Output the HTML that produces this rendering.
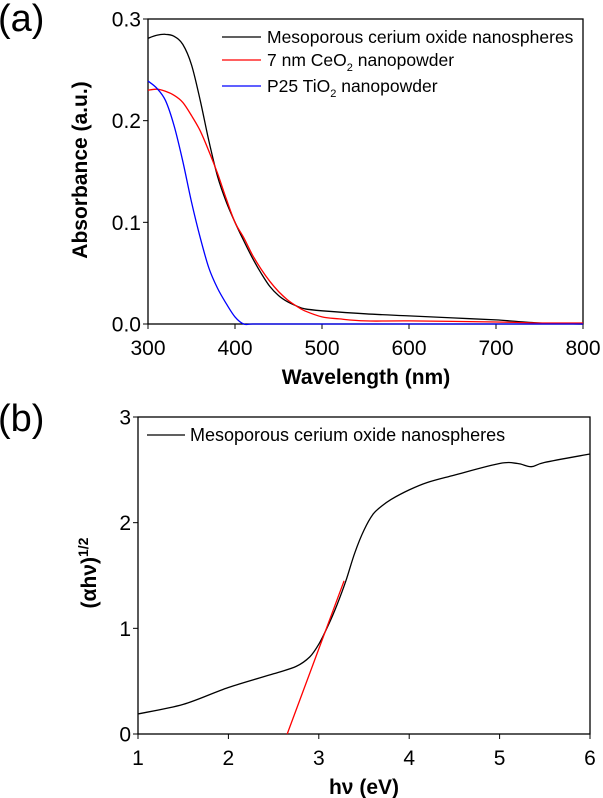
<!DOCTYPE html>
<html><head><meta charset="utf-8"><style>
body{margin:0;background:#fff}
svg{font-family:"Liberation Sans",sans-serif;display:block}
</style></head><body>
<svg id="c" width="603" height="798"></svg>
<script>
const aX=[300,310,320,330,340,350,360,370,380,390,400,410,420,430,440,450,460,470,480,500,550,600,650,700,750,800];
const aBlack=[0.281,0.284,0.285,0.283,0.275,0.255,0.22,0.18,0.145,0.12,0.1,0.082,0.065,0.05,0.037,0.028,0.022,0.018,0.015,0.013,0.01,0.008,0.006,0.004,0.001,0];
const aRedX=[300,310,320,330,340,350,360,370,380,390,400,410,420,430,440,450,460,470,480,500,520,550,600,700,750,800];
const aRed=[0.23,0.231,0.229,0.225,0.218,0.205,0.19,0.17,0.148,0.123,0.1,0.085,0.068,0.054,0.042,0.032,0.024,0.018,0.013,0.007,0.005,0.003,0.003,0.002,0.001,0.001];
const aBlueX=[300,310,320,330,340,350,360,370,380,390,400,410,420,450,500,600,700,800];
const aBlue=[0.239,0.232,0.22,0.195,0.16,0.12,0.085,0.055,0.035,0.02,0.007,0,0,0,0,0,0,0];
const aXTicks=[300,400,500,600,700,800];
const aYTicks=["0.0","0.1","0.2","0.3"];
const bX=[1,1.5,2,2.5,2.75,2.9,3,3.1,3.2,3.3,3.4,3.5,3.6,3.7,3.8,4,4.2,4.5,5,5.2,5.35,5.5,6];
const bY=[0.19,0.28,0.44,0.57,0.64,0.73,0.85,1.02,1.22,1.45,1.72,1.93,2.08,2.16,2.22,2.31,2.38,2.45,2.56,2.56,2.53,2.57,2.65];
const bFitX=[2.65,3.28];
const bFitY=[0,1.45];
const bXTicks=[1,2,3,4,5,6];
const bYTicks=[0,1,2,3];
const svg=document.getElementById('c');
const NS='http://www.w3.org/2000/svg';
function mk(t,a,txt){const e=document.createElementNS(NS,t);for(const k in a)e.setAttribute(k,a[k]);if(txt!==undefined)e.textContent=txt;svg.appendChild(e);return e;}
function smooth(p){
  let d='M'+p[0][0].toFixed(1)+','+p[0][1].toFixed(1);
  for(let i=0;i<p.length-1;i++){
    const p0=p[i-1]||p[i],p1=p[i],p2=p[i+1],p3=p[i+2]||p2;
    const c1=[p1[0]+(p2[0]-p0[0])/6,p1[1]+(p2[1]-p0[1])/6];
    const c2=[p2[0]-(p3[0]-p1[0])/6,p2[1]-(p3[1]-p1[1])/6];
    d+='C'+c1.map(v=>v.toFixed(1)).join(',')+' '+c2.map(v=>v.toFixed(1)).join(',')+' '+p2.map(v=>v.toFixed(1)).join(',');
  }
  return d;
}
function panel(P){
  const sx=v=>P.l+(v-P.x0)/(P.x1-P.x0)*(P.r-P.l);
  const sy=v=>P.b-(v-P.y0)/(P.y1-P.y0)*(P.b-P.t);
  let f=mk('rect',{x:P.l,y:P.t,width:P.r-P.l,height:P.b-P.t,fill:'none',stroke:'#000','stroke-width':1.3});
  
  P.xt.forEach(v=>{let x=sx(+v);mk('line',{x1:x,x2:x,y1:P.b,y2:P.b+5,stroke:'#000'});
    let t=mk('text',{x:x,y:P.b+31,'font-size':21,'text-anchor':'middle'},String(v));
    });
  P.yt.forEach(v=>{let y=sy(+v);mk('line',{x1:P.l-5,x2:P.l,y1:y,y2:y,stroke:'#000'});
    let t=mk('text',{x:P.l-7,y:y+7.5,'font-size':21,'text-anchor':'end'},String(v));
    });
  P.series.forEach(s=>{let pts=s.x.map((v,i)=>[sx(v),sy(s.y[i])]);
    let p=mk('path',{d:smooth(pts),fill:'none',stroke:s.c,'stroke-width':1.3});
    });
}
panel({id:'a',l:148,r:583,t:19,b:324,x0:300,x1:800,y0:0,y1:0.3,xt:aXTicks,yt:aYTicks,series:[
 {x:aX,y:aBlack,c:'#000',name:'series-mesoporous'},{x:aRedX,y:aRed,c:'#f00',name:'series-7nm-ceo2'},{x:aBlueX,y:aBlue,c:'#00f',name:'series-p25-tio2'}]});
panel({id:'b',l:138,r:590,t:417,b:734,x0:1,x1:6,y0:0,y1:3,xt:bXTicks,yt:bYTicks,series:[
 {x:bX,y:bY,c:'#000',name:'series-tauc'},{x:bFitX,y:bFitY,c:'#f00',name:'fit-line'}]});
</script>
<svg width="603" height="798" style="position:absolute;left:0;top:0" font-family="Liberation Sans, sans-serif">
<text x="-2" y="31" font-size="38">(a)</text>
<text x="-2" y="431" font-size="38">(b)</text>
<text x="366" y="384" font-size="21" font-weight="bold" text-anchor="middle">Wavelength (nm)</text>
<text transform="translate(87,170) rotate(-90)" font-size="21" font-weight="bold" text-anchor="middle">Absorbance (a.u.)</text>
<text x="364" y="794" font-size="21" font-weight="bold" text-anchor="middle">hν (eV)</text>
<text transform="translate(96,573) rotate(-90)" font-size="21" font-weight="bold" text-anchor="middle">(αhν)<tspan font-size="14" dy="-8">1/2</tspan></text>
<g font-size="17.5">
<line x1="222" x2="261" y1="37" y2="37" stroke="#000" stroke-width="1.3"/><text x="267" y="43">Mesoporous cerium oxide nanospheres</text>
<line x1="222" x2="261" y1="60" y2="60" stroke="#f00" stroke-width="1.3"/><text x="267" y="66">7 nm CeO<tspan font-size="11" dy="5">2</tspan><tspan dy="-5"> nanopowder</tspan></text>
<line x1="222" x2="261" y1="86" y2="86" stroke="#00f" stroke-width="1.3"/><text x="267" y="92">P25 TiO<tspan font-size="11" dy="5">2</tspan><tspan dy="-5"> nanopowder</tspan></text>
</g>
<g font-size="18">
<line x1="147" x2="185" y1="435" y2="435" stroke="#000" stroke-width="1.3"/><text x="190" y="441">Mesoporous cerium oxide nanospheres</text>
</g>
</svg>
</body></html>
